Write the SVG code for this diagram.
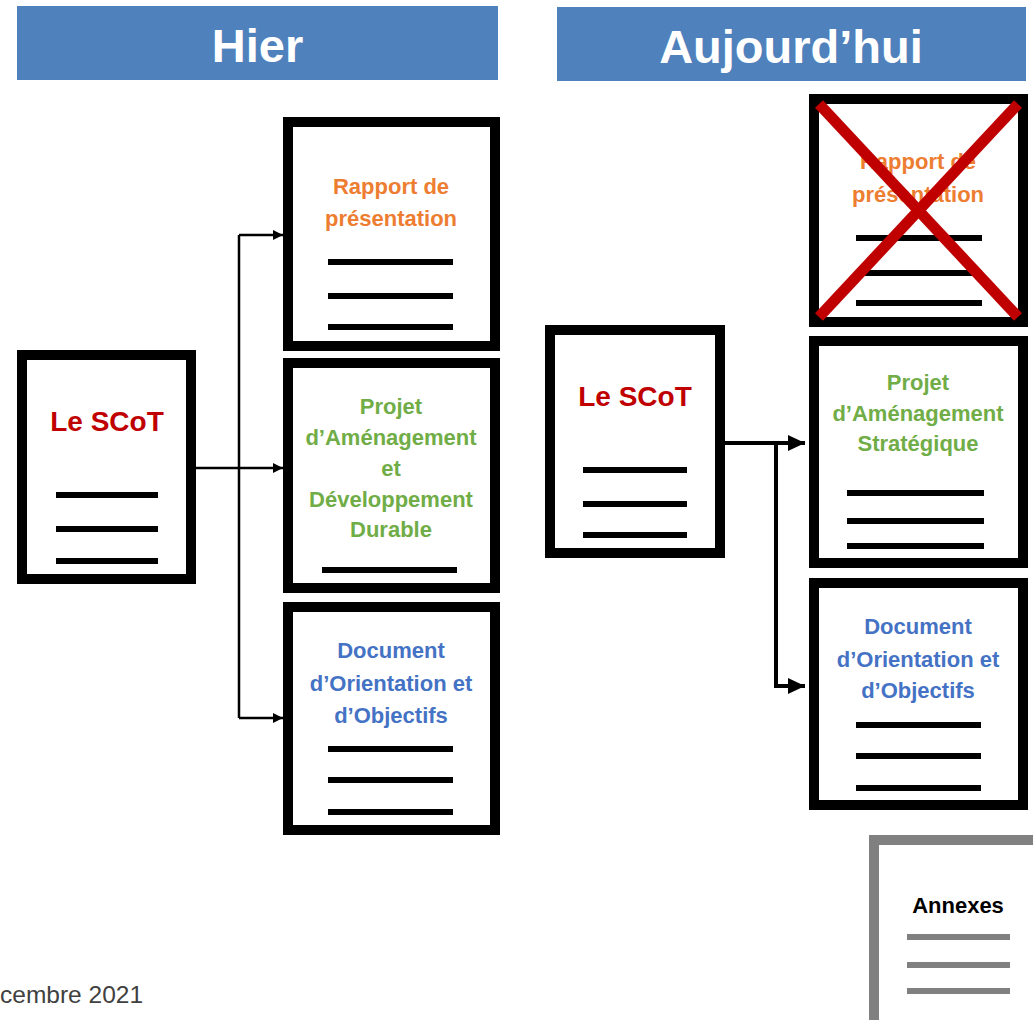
<svg xmlns="http://www.w3.org/2000/svg" width="1033" height="1020" viewBox="0 0 1033 1020">
<defs>
<style>
.hdr{fill:#4F81BD}
.htx{font-family:"Liberation Sans",Arial,sans-serif;font-weight:bold;font-size:47px;fill:#fff;text-anchor:middle}
.box{fill:#fff;stroke:#000;stroke-width:10}
.gbox{fill:#fff;stroke:#808080;stroke-width:10}
.t{font-family:"Liberation Sans",Arial,sans-serif;font-weight:bold;font-size:22px;text-anchor:middle}
.scot{font-family:"Liberation Sans",Arial,sans-serif;font-weight:bold;font-size:28px;fill:#C00000;text-anchor:middle}
.or{fill:#ED7D31}.gr{fill:#70AD47}.bl{fill:#4472C4}.bk{fill:#000}
.ln{stroke:#000;stroke-width:6}
.gln{stroke:#808080;stroke-width:6}
.c1{fill:none;stroke:#000;stroke-width:2.5}
.c2{fill:none;stroke:#000;stroke-width:4}
</style>
<marker id="a1" markerUnits="userSpaceOnUse" markerWidth="11" markerHeight="11" refX="10" refY="5.5" orient="auto"><path d="M0,0.5 L10,5.5 L0,10.5 Z" fill="#000"/></marker>
<marker id="a2" markerUnits="userSpaceOnUse" markerWidth="18" markerHeight="16" refX="17" refY="8" orient="auto"><path d="M0,0 L17,8 L0,16 Z" fill="#000"/></marker>
</defs>
<rect width="1033" height="1020" fill="#fff"/>

<g id="hdr-hier"><rect class="hdr" x="17" y="6" width="481" height="74"/><text class="htx" x="257.5" y="62">Hier</text></g>
<g id="hdr-auj"><rect class="hdr" x="557" y="7" width="469" height="74"/><text class="htx" x="791" y="63">Aujourd’hui</text></g>

<g id="connectors">
<path class="c1" d="M196,468 H283" marker-end="url(#a1)"/>
<path class="c1" d="M239,235 V718"/>
<path class="c1" d="M239,235 H283" marker-end="url(#a1)"/>
<path class="c1" d="M239,718 H283" marker-end="url(#a1)"/>
<path class="c2" d="M725,443 H805" marker-end="url(#a2)"/>
<path class="c2" d="M776,443 V686 H805" marker-end="url(#a2)"/>
</g>

<g id="scot-hier">
<rect class="box" x="22" y="355" width="169" height="224"/>
<text class="scot" x="107" y="431">Le SCoT</text>
<line class="ln" x1="56" y1="495" x2="158" y2="495"/>
<line class="ln" x1="56" y1="529" x2="158" y2="529"/>
<line class="ln" x1="56" y1="561" x2="158" y2="561"/>
</g>

<g id="rapport-hier">
<rect class="box" x="288" y="122" width="207" height="224"/>
<text class="t or" x="391" y="194">Rapport de</text>
<text class="t or" x="391" y="226">présentation</text>
<line class="ln" x1="328" y1="262" x2="453" y2="262"/>
<line class="ln" x1="328" y1="296" x2="453" y2="296"/>
<line class="ln" x1="328" y1="327" x2="453" y2="327"/>
</g>

<g id="padd-hier">
<rect class="box" x="288" y="363" width="207" height="225"/>
<text class="t gr" x="391" y="414">Projet</text>
<text class="t gr" x="391" y="445">d’Aménagement</text>
<text class="t gr" x="391" y="476">et</text>
<text class="t gr" x="391" y="507">Développement</text>
<text class="t gr" x="391" y="537">Durable</text>
<line class="ln" x1="322" y1="570" x2="457" y2="570"/>
</g>

<g id="doo-hier">
<rect class="box" x="288" y="607" width="207" height="223"/>
<text class="t bl" x="391" y="658">Document</text>
<text class="t bl" x="391" y="691">d’Orientation et</text>
<text class="t bl" x="391" y="723">d’Objectifs</text>
<line class="ln" x1="328" y1="749" x2="453" y2="749"/>
<line class="ln" x1="328" y1="780" x2="453" y2="780"/>
<line class="ln" x1="328" y1="812" x2="453" y2="812"/>
</g>

<g id="scot-auj">
<rect class="box" x="550" y="330" width="170" height="223"/>
<text class="scot" x="635" y="406">Le SCoT</text>
<line class="ln" x1="583" y1="470" x2="687" y2="470"/>
<line class="ln" x1="583" y1="504" x2="687" y2="504"/>
<line class="ln" x1="583" y1="535" x2="687" y2="535"/>
</g>

<g id="rapport-auj">
<rect class="box" x="814" y="99" width="209" height="223"/>
<text class="t or" x="918" y="169">Rapport de</text>
<text class="t or" x="918" y="202">présentation</text>
<line class="ln" x1="856" y1="238" x2="982" y2="238"/>
<line class="ln" x1="856" y1="273" x2="982" y2="273"/>
<line class="ln" x1="856" y1="303" x2="982" y2="303"/>
<line x1="819" y1="104" x2="1018" y2="317" stroke="#C00000" stroke-width="11"/>
<line x1="1018" y1="104" x2="819" y2="317" stroke="#C00000" stroke-width="11"/>
</g>

<g id="pas-auj">
<rect class="box" x="814" y="341" width="209" height="222"/>
<text class="t gr" x="918" y="390">Projet</text>
<text class="t gr" x="918" y="421">d’Aménagement</text>
<text class="t gr" x="918" y="451">Stratégique</text>
<line class="ln" x1="847" y1="493" x2="984" y2="493"/>
<line class="ln" x1="847" y1="521" x2="984" y2="521"/>
<line class="ln" x1="847" y1="546" x2="984" y2="546"/>
</g>

<g id="doo-auj">
<rect class="box" x="814" y="583" width="209" height="222"/>
<text class="t bl" x="918" y="634">Document</text>
<text class="t bl" x="918" y="667">d’Orientation et</text>
<text class="t bl" x="918" y="698">d’Objectifs</text>
<line class="ln" x1="856" y1="725" x2="981" y2="725"/>
<line class="ln" x1="856" y1="756" x2="981" y2="756"/>
<line class="ln" x1="856" y1="788" x2="981" y2="788"/>
</g>

<g id="annexes">
<rect class="gbox" x="874" y="840" width="200" height="220"/>
<text class="t bk" x="958" y="913">Annexes</text>
<line class="gln" x1="907" y1="937" x2="1010" y2="937"/>
<line class="gln" x1="907" y1="965" x2="1010" y2="965"/>
<line class="gln" x1="907" y1="991" x2="1010" y2="991"/>
</g>

<text x="0" y="1003" font-family="'Liberation Sans',Arial,sans-serif" font-size="24.5" fill="#404040">cembre 2021</text>
</svg>
